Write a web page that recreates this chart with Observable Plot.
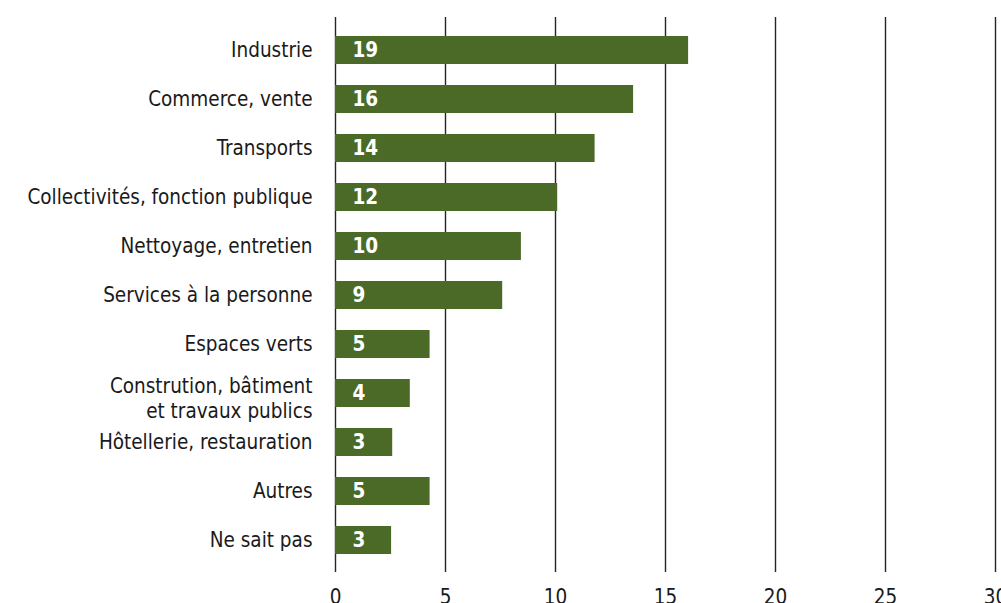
<!DOCTYPE html>
<html>
<head>
<meta charset="utf-8">
<script src="https://cdn.jsdelivr.net/npm/d3@7"></script>
<script src="https://cdn.jsdelivr.net/npm/@observablehq/plot@0.6"></script>
<style>
  html, body { margin: 0; padding: 0; background: #ffffff; }
  #chart { width: 1001px; height: 603px; overflow: hidden; }
</style>
</head>
<body>
<div id="chart"></div>
<script>
const categories = [
  "Industrie",
  "Commerce, vente",
  "Transports",
  "Collectivités, fonction publique",
  "Nettoyage, entretien",
  "Services à la personne",
  "Espaces verts",
  "Constrution, bâtiment\net travaux publics",
  "Hôtellerie, restauration",
  "Autres",
  "Ne sait pas"
];
// bar lengths as drawn on the x axis
const barLengths = [16.05, 13.55, 11.8, 10.1, 8.45, 7.6, 4.3, 3.4, 2.6, 4.3, 2.55];
// value labels printed inside the bars
const valueLabels = [19, 16, 14, 12, 10, 9, 5, 4, 3, 5, 3];
const xTicks = [0, 5, 10, 15, 20, 25, 30];

const data = categories.map((c, i) => ({cat: c, len: barLengths[i], label: valueLabels[i]}));
const singleLine = data.filter(d => !d.cat.includes("\n"));
const multiLine = data.filter(d => d.cat.includes("\n"));

const font = "'DejaVu Sans Condensed', 'DejaVu Sans', sans-serif";

const chart = Plot.plot({
  width: 1001,
  height: 603,
  marginLeft: 335,
  marginRight: 6,
  marginTop: 17,
  marginBottom: 31,
  style: {fontFamily: font, background: "transparent", color: "#1a1a1a", overflow: "visible"},
  x: {domain: [0, 30], axis: null},
  y: {domain: categories, paddingInner: 0.43, paddingOuter: 0.345, axis: null},
  marks: [
    Plot.ruleX(xTicks, {stroke: "#262626", strokeWidth: 1.4}),
    Plot.barX(data, {x: "len", y: "cat", fill: "#4b6a28"}),
    Plot.text(data, {x: 0, y: "cat", text: d => String(d.label), dx: 17, textAnchor: "start",
      fill: "white", fontWeight: "bold", fontSize: 20.5, fontFamily: font}),
    Plot.text(singleLine, {y: "cat", text: "cat", frameAnchor: "left", textAnchor: "end", dx: -23,
      fontSize: 20.5, fill: "#1a1a1a"}),
    Plot.text(multiLine, {y: "cat", text: "cat", frameAnchor: "left", textAnchor: "end", dx: -23, dy: 4,
      fontSize: 20.5, lineHeight: 1.22, fill: "#1a1a1a"}),
    Plot.axisX({ticks: xTicks, tickSize: 0, tickPadding: 17, fontSize: 20.5, label: null, fill: "#1a1a1a"})
  ]
});
document.getElementById("chart").appendChild(chart);
</script>
</body>
</html>
